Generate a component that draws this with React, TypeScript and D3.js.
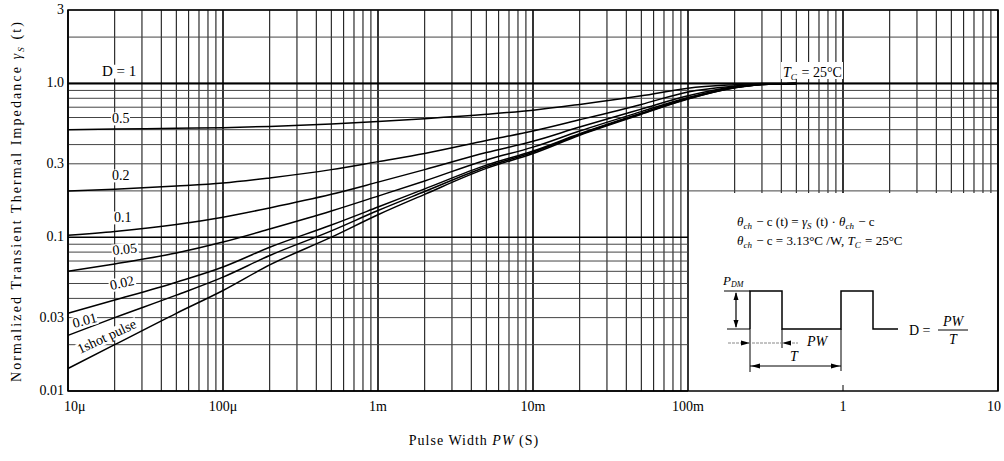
import React from 'react';
import * as d3 from 'd3';

const W = 1004;
const H = 461;

// Pulse widths (s) at which the curves were read
const pulseWidths = [1e-5, 2e-5, 5e-5, 1e-4, 2e-4, 5e-4, 1e-3, 2e-3, 5e-3, 1e-2, 2e-2, 5e-2, 1e-1, 2e-1, 3e-1, 5e-1];

// Normalized transient thermal impedance per duty cycle
const rD05 = [0.5, 0.505, 0.51, 0.515, 0.525, 0.545, 0.565, 0.59, 0.63, 0.67, 0.73, 0.83, 0.93, 0.98, 1.0, 1.0];
const rD02 = [0.2, 0.205, 0.215, 0.225, 0.243, 0.275, 0.31, 0.35, 0.425, 0.49, 0.58, 0.73, 0.88, 0.96, 0.99, 1.0];
const rD01 = [0.103, 0.109, 0.121, 0.135, 0.155, 0.19, 0.228, 0.275, 0.355, 0.42, 0.52, 0.68, 0.83, 0.95, 0.99, 1.0];
const rD005 = [0.06, 0.067, 0.079, 0.093, 0.113, 0.148, 0.185, 0.232, 0.318, 0.385, 0.49, 0.655, 0.81, 0.945, 0.985, 1.0];
const rD002 = [0.032, 0.039, 0.051, 0.064, 0.086, 0.12, 0.157, 0.206, 0.294, 0.363, 0.47, 0.64, 0.8, 0.94, 0.985, 1.0];
const rD001 = [0.023, 0.03, 0.042, 0.055, 0.076, 0.11, 0.149, 0.198, 0.287, 0.357, 0.465, 0.635, 0.795, 0.938, 0.985, 1.0];
const rSingle = [0.014, 0.02, 0.032, 0.045, 0.066, 0.1, 0.14, 0.19, 0.28, 0.35, 0.46, 0.63, 0.79, 0.935, 0.985, 1.0];

// D = 1 (steady state)
const dOneTimes = [1e-5, 10];
const dOneValues = [1, 1];

const xTickValues = [1e-5, 1e-4, 1e-3, 1e-2, 1e-1, 1, 10];
const xTickLabels = ['10μ', '100μ', '1m', '10m', '100m', '1', '10'];
const yTickValues = [0.01, 0.03, 0.1, 0.3, 1, 3];
const yTickLabels = ['0.01', '0.03', '0.1', '0.3', '1.0', '3'];

const SERIF = '"Liberation Serif", "DejaVu Serif", "Times New Roman", serif';

const series = [rD05, rD02, rD01, rD005, rD002, rD001, rSingle];

type Lab = { text: string; x: number; y: number; rot: number; size: number; bw: number };
const curveLabels: Lab[] = [
  { text: 'D = 1', x: 102, y: 76, rot: 0, size: 15, bw: 36 },
  { text: '0.5', x: 112, y: 123, rot: 0, size: 14, bw: 19 },
  { text: '0.2', x: 112, y: 180, rot: 0, size: 14, bw: 19 },
  { text: '0.1', x: 114, y: 222, rot: 0, size: 14, bw: 19 },
  { text: '0.05', x: 113, y: 255, rot: -6, size: 14, bw: 27 },
  { text: '0.02', x: 111, y: 290, rot: -12, size: 14, bw: 27 },
  { text: '0.01', x: 74, y: 328, rot: -15, size: 14, bw: 26 },
  { text: '1shot pulse', x: 80, y: 354, rot: -25, size: 14, bw: 66 },
];

export default function App() {
  const x = d3.scaleLog().domain([1e-5, 10]).range([68, 998]);
  const y = d3.scaleLog().domain([0.01, 3]).range([391, 10]);

  const gridT: number[] = [];
  for (let e = -5; e < 1; e++) for (let k = 1; k <= 9; k++) gridT.push(k * Math.pow(10, e));
  gridT.push(10);
  const gridV: number[] = [];
  for (let e = -2; e < 0; e++) for (let k = 1; k <= 9; k++) gridV.push(k * Math.pow(10, e));
  gridV.push(1, 2, 3);

  const isDecade = (v: number) => Math.abs(Math.log10(v) - Math.round(Math.log10(v))) < 1e-6;
  const insetT = 0.1;
  const insetV = 0.2;

  const line = d3
    .line<number>()
    .x((_, i) => x(pulseWidths[i]))
    .y((v) => y(v))
    .curve(d3.curveMonotoneX);

  const dOneLine = d3
    .line<number>()
    .x((_, i) => x(dOneTimes[i]))
    .y((v) => y(v));

  const [x0, x1] = x.range();
  const [y0, y1] = y.range();

  const sub = (s: string, italic = true) => (
    <>
      <tspan dy={3} fontSize={9} fontStyle={italic ? 'italic' : 'normal'}>{s}</tspan>
      <tspan dy={-3}>{'\u200A'}</tspan>
    </>
  );

  return (
    <svg width={W} height={H} style={{ position: 'absolute', left: 0, top: 0, background: '#fff' }} fontFamily={SERIF}>
      <rect x={0} y={0} width={W} height={H} fill="#fff" />
      {/* vertical grid */}
      {gridT.map((t, i) => (
        <line
          key={'vt' + i}
          x1={x(t)}
          x2={x(t)}
          y1={y1}
          y2={t > insetT * 1.0001 && t < 10 ? y(insetV) + 2 : y0}
          stroke={isDecade(t) ? '#000' : '#1a1a1a'}
          strokeWidth={isDecade(t) ? 1.6 : 1.1}
        />
      ))}
      {/* horizontal grid */}
      {gridV.map((v, i) => (
        <line
          key={'hv' + i}
          x1={x0}
          x2={v < insetV * 0.9999 ? x(insetT) : x1}
          y1={y(v)}
          y2={y(v)}
          stroke={isDecade(v) ? '#000' : '#444'}
          strokeWidth={isDecade(v) ? 1.4 : 1}
        />
      ))}
      {/* frame */}
      <rect x={x0} y={y1} width={x1 - x0} height={y0 - y1} fill="none" stroke="#000" strokeWidth={1.5} />
      <line x1={x(1)} x2={x(1)} y1={y0 - 6} y2={y0} stroke="#000" strokeWidth={1} />

      {/* curves */}
      {series.map((vals, i) => (
        <path key={'s' + i} d={line(vals) || ''} fill="none" stroke="#000" strokeWidth={1.5} />
      ))}
      <path d={dOneLine(dOneValues) || ''} fill="none" stroke="#000" strokeWidth={2} />

      {/* curve labels */}
      {curveLabels.map((l, i) => (
        <g key={'l' + i} transform={`translate(${l.x},${l.y}) rotate(${l.rot})`}>
          <rect x={-1} y={-l.size * 0.75} width={l.bw} height={l.size * 0.92} fill="#fff" />
          <text x={0} y={0} fontSize={l.size} fill="#000">
            {l.text}
          </text>
        </g>
      ))}

      {/* Tc label */}
      <rect x={781} y={62} width={62} height={17} fill="#fff" />
      <text x={783} y={77} fontSize={14} fill="#000">
        <tspan fontStyle="italic">T</tspan>
        {sub('C')}
        <tspan> = 25°C</tspan>
      </text>

      {/* y ticks */}
      {yTickValues.map((v, i) => (
        <text key={'yt' + i} x={64} y={y(v) + 4} fontSize={14} textAnchor="end" fill="#000">
          {yTickLabels[i]}
        </text>
      ))}
      {/* x ticks */}
      {xTickValues.map((t, i) => (
        <text
          key={'xt' + i}
          x={i === 0 ? 64 : i === xTickValues.length - 1 ? 1001 : x(t)}
          y={411}
          fontSize={14}
          textAnchor={i === 0 ? 'start' : i === xTickValues.length - 1 ? 'end' : 'middle'}
          fill="#000"
        >
          {xTickLabels[i]}
        </text>
      ))}

      {/* axis titles */}
      <text x={474} y={445} fontSize={14} textAnchor="middle" letterSpacing={1} fill="#000">
        <tspan>Pulse Width </tspan>
        <tspan fontStyle="italic">PW</tspan>
        <tspan> (S)</tspan>
      </text>
      <text
        transform="translate(21,201) rotate(-90)"
        fontSize={14}
        textAnchor="middle"
        letterSpacing={2.1}
        fill="#000"
      >
        <tspan>Normalized Transient Thermal Impedance </tspan>
        <tspan fontStyle="italic">γ</tspan>
        <tspan dy={3} fontSize={9} fontStyle="italic">S</tspan>
        <tspan dy={-3}> (t)</tspan>
      </text>

      {/* inset formulas */}
      <text x={737} y={226} fontSize={13} fill="#000">
        <tspan fontStyle="italic">θ</tspan>
        {sub('ch')}
        <tspan> − c (t) = </tspan>
        <tspan fontStyle="italic">γ</tspan>
        {sub('S')}
        <tspan> (t) · </tspan>
        <tspan fontStyle="italic">θ</tspan>
        {sub('ch')}
        <tspan> − c</tspan>
      </text>
      <text x={737} y={245} fontSize={13} fill="#000">
        <tspan fontStyle="italic">θ</tspan>
        {sub('ch')}
        <tspan> − c = 3.13°C /W, </tspan>
        <tspan fontStyle="italic">T</tspan>
        {sub('C')}
        <tspan> = 25°C</tspan>
      </text>

      {/* waveform */}
      <g stroke="#000" fill="none" strokeWidth={1.5}>
        <path d="M750,329 V291 H782 V329 H841 V291 H873 V329 H898" />
        <path d="M724,291 H750 M727,329 H750" strokeWidth={1} />
        <path d="M736,293 V327" strokeWidth={1.2} />
        <path d="M750,329 V372 M782,329 V348 M841,329 V371" strokeWidth={1} />
        <path d="M728,343 H798" strokeWidth={1} stroke="#888" strokeDasharray="3,1" />
        <path d="M750,366 H841" strokeWidth={1} />
      </g>
      <g fill="#000">
        <path d="M736,292 l-2.5,8 h5 z" />
        <path d="M736,328 l-2.5,-8 h5 z" />
        <path d="M750,343 l-9,-2.5 v5 z" />
        <path d="M782,343 l9,-2.5 v5 z" />
        <path d="M751,366 l9,-2.5 v5 z" />
        <path d="M840,366 l-9,-2.5 v5 z" />
      </g>
      <text x={723} y={285} fontSize={13} fill="#000">
        <tspan fontStyle="italic">P</tspan>
        <tspan dy={2} fontSize={8} fontStyle="italic">DM</tspan>
      </text>
      <text x={807} y={346} fontSize={14} fontStyle="italic" fill="#000">PW</text>
      <text x={794} y={361} fontSize={14} fontStyle="italic" textAnchor="middle" fill="#000">T</text>
      <text x={909} y={335} fontSize={14} fill="#000">D =</text>
      <text x={953} y={326} fontSize={14} fontStyle="italic" textAnchor="middle" fill="#000">PW</text>
      <line x1={938} x2={968} y1={330} y2={330} stroke="#000" strokeWidth={1} />
      <text x={953} y={344} fontSize={14} fontStyle="italic" textAnchor="middle" fill="#000">T</text>
    </svg>
  );
}
